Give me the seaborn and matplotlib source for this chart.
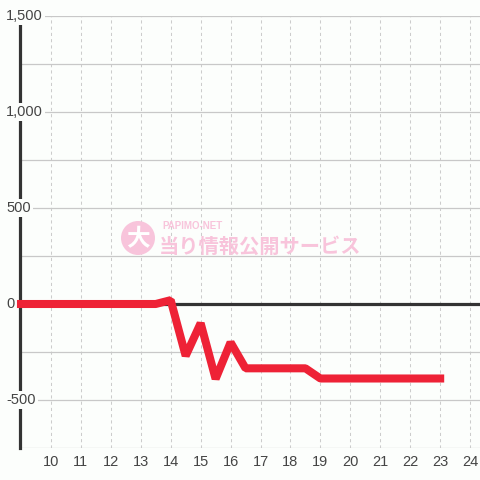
import matplotlib
matplotlib.use("Agg")
import matplotlib.pyplot as plt
from matplotlib.patches import Circle
import seaborn as sns
import pandas as pd

# hourly balance (half-hour steps in the afternoon)
hours = [9, 10, 11, 12, 13, 13.5, 14, 14.5, 15, 15.5, 16, 16.5, 17, 18, 18.5, 19, 20, 21, 22, 23]
balance = [0, 0, 0, 0, 0, 0, 20, -270, -100, -390, -200, -335, -335, -335, -335, -388, -388, -388, -388, -388]
x_ticks = list(range(10, 25))
y_labels = [1500, 1000, 500, 0, -500]

df = pd.DataFrame({"hour": hours, "balance": balance})

sns.set_style("white")
plt.rcParams["font.family"] = ["Liberation Sans", "DejaVu Sans"]

bg = "#fcfefc"
fig = plt.figure(figsize=(4.8, 4.8), dpi=100, facecolor=bg)
ax = fig.add_axes([20 / 480, 32 / 480, 460 / 480, 432 / 480], facecolor=bg)

sns.lineplot(data=df, x="hour", y="balance", ax=ax, color="#ee2236", lw=5.8,
             solid_capstyle="projecting", solid_joinstyle="bevel",
             zorder=3, clip_on=False)

ax.set_xlim(8.967, 24.33)
ax.set_ylim(-750, 1500)
ax.set_xticks(x_ticks)
ax.set_yticks(range(-750, 1501, 250))
ax.set_yticklabels([])
ax.set_xlabel("")
ax.set_ylabel("")

ax.grid(axis="y", color="#c8c8c8", lw=0.9, ls="-")
ax.grid(axis="x", color="#cccccc", lw=0.75, ls=(0, (3, 3)))
ax.tick_params(axis="both", length=0)
ax.tick_params(axis="x", pad=5, labelsize=10.5, labelcolor="#444444")

for s in ["top", "right", "bottom"]:
    ax.spines[s].set_visible(False)
ax.spines["left"].set_color("#333333")
ax.spines["left"].set_linewidth(2.3)
ax.axhline(0, color="#333333", lw=2.3, zorder=2)

ytr = ax.get_yaxis_transform()
for v in y_labels:
    ax.text(-14 / 460, v, f"{v:,}", transform=ytr, ha="left", va="center",
            fontsize=10.5, color="#444444", zorder=5, clip_on=False,
            bbox=dict(facecolor=bg, edgecolor="none", pad=1.5))

# watermark
pink = "#f8c4db"
fig.patches.append(Circle((138 / 480, 1 - 238 / 480), 17 / 480, transform=fig.transFigure,
                          facecolor=pink, edgecolor="none", zorder=1))
fig.text(138 / 480, 1 - 239 / 480, "大", family=["Noto Sans CJK JP"], fontsize=17,
         fontweight="bold", color="white", ha="center", va="center", zorder=2)
fig.text(162 / 480, 1 - 226 / 480, "PAPIMO-NET", fontsize=7, color=pink,
         fontweight="bold", ha="left", va="center", zorder=2)
fig.text(159 / 480, 1 - 246 / 480, "当り情報公開サービス", family=["Noto Sans CJK JP"],
         fontsize=14.6, fontweight="bold", color=pink, ha="left", va="center", zorder=2)

fig.savefig("out.png", dpi=100, facecolor=bg)
